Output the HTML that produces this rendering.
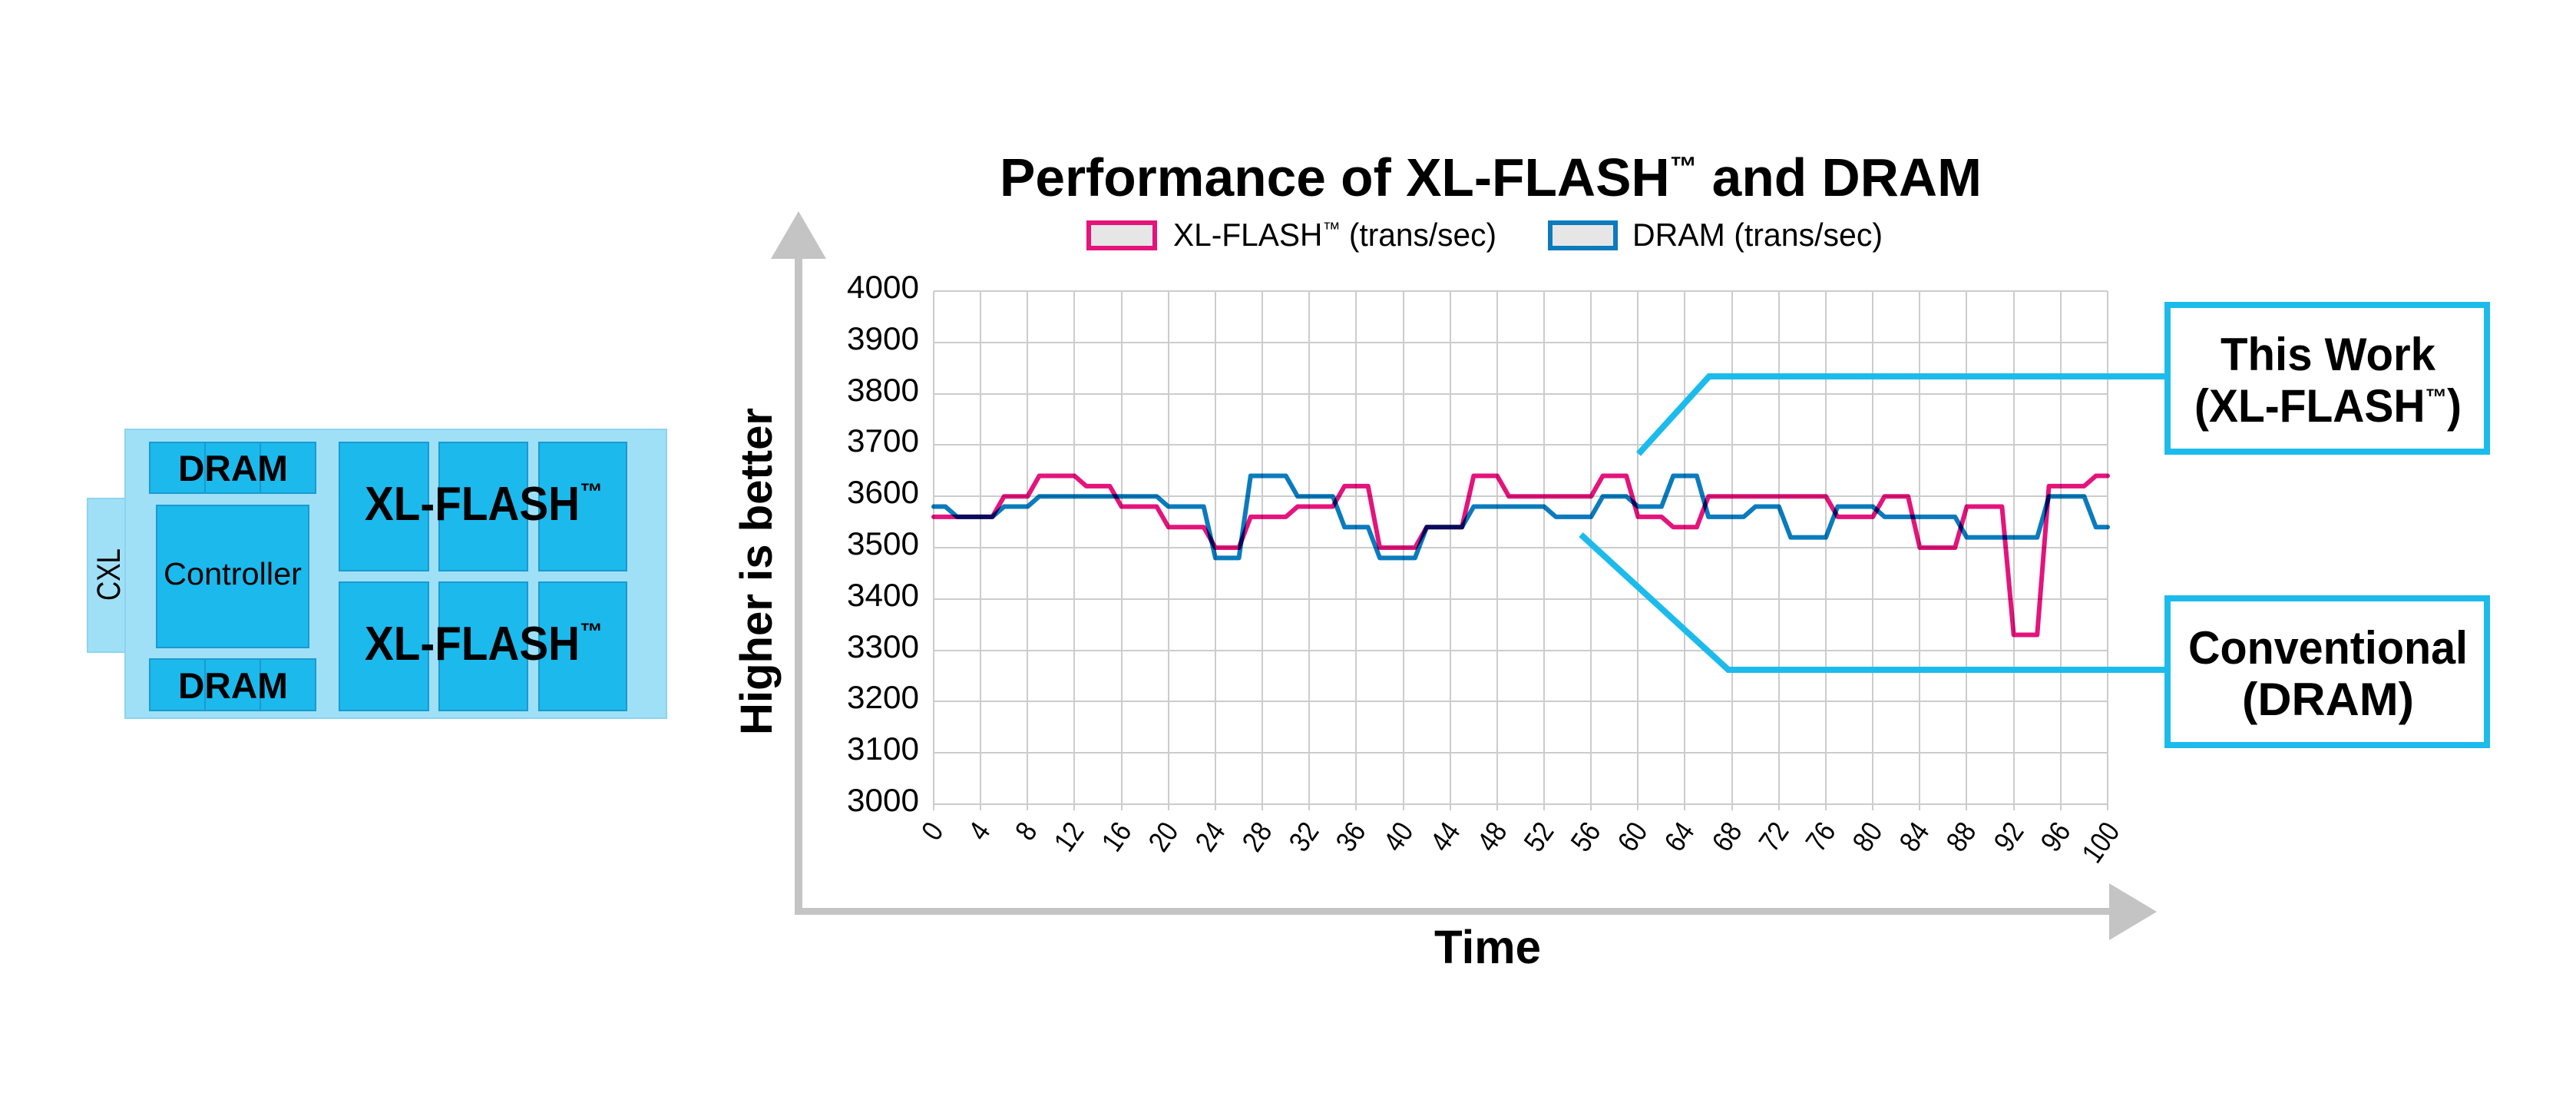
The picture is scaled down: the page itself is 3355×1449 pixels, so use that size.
<!DOCTYPE html>
<html><head><meta charset="utf-8"><style>
html,body{margin:0;padding:0;background:#fff;}
svg{display:block;}
text{font-family:"Liberation Sans",sans-serif;}
</style></head><body>
<svg width="3355" height="1449" viewBox="0 0 3355 1449" xmlns="http://www.w3.org/2000/svg">
<rect width="3355" height="1449" fill="#fff"/>
<!-- Diagram -->
<rect x="114" y="649" width="52" height="200" fill="#9fe0f7" stroke="#8cd3ef" stroke-width="2"/>
<rect x="163" y="559" width="705" height="376" fill="#9fe0f7" stroke="#8cd3ef" stroke-width="2"/>
<text transform="translate(156,782) rotate(-90)" font-size="43" textLength="68" lengthAdjust="spacingAndGlyphs">CXL</text>
<g fill="#1cb9ec" stroke="#1a9ad0" stroke-width="2">
<rect x="195" y="576" width="72" height="66"/><rect x="267" y="576" width="72" height="66"/><rect x="339" y="576" width="72" height="66"/>
<rect x="195" y="858" width="72" height="67"/><rect x="267" y="858" width="72" height="67"/><rect x="339" y="858" width="72" height="67"/>
<rect x="204" y="658" width="198" height="185"/>
<rect x="442" y="576" width="116" height="167"/><rect x="572" y="576" width="115" height="167"/><rect x="702" y="576" width="114" height="167"/>
<rect x="442" y="758" width="116" height="167"/><rect x="572" y="758" width="115" height="167"/><rect x="702" y="758" width="114" height="167"/>
</g>
<text x="232" y="626" font-size="47" font-weight="bold" textLength="143" lengthAdjust="spacingAndGlyphs">DRAM</text>
<text x="232" y="909" font-size="47" font-weight="bold" textLength="143" lengthAdjust="spacingAndGlyphs">DRAM</text>
<text x="213" y="761" font-size="41" textLength="180" lengthAdjust="spacingAndGlyphs">Controller</text>
<text x="475" y="677" font-size="62" font-weight="bold" textLength="280" lengthAdjust="spacingAndGlyphs">XL-FLASH</text>
<text x="755" y="650" font-size="30" font-weight="bold" textLength="30" lengthAdjust="spacingAndGlyphs">™</text>
<text x="475" y="859" font-size="62" font-weight="bold" textLength="280" lengthAdjust="spacingAndGlyphs">XL-FLASH</text>
<text x="755" y="832" font-size="30" font-weight="bold" textLength="30" lengthAdjust="spacingAndGlyphs">™</text>

<!-- Title & legend -->
<text x="1302" y="255" font-size="70" font-weight="bold" textLength="1279" lengthAdjust="spacingAndGlyphs">Performance of XL-FLASH<tspan font-size="36" dy="-26">™</tspan><tspan dy="26"> and DRAM</tspan></text>
<rect x="1418" y="290" width="86" height="33" fill="#e6e6e6" stroke="#e4147c" stroke-width="6"/>
<text x="1528" y="320" font-size="42" textLength="421" lengthAdjust="spacingAndGlyphs">XL-FLASH<tspan font-size="24" dy="-14">™</tspan><tspan dy="14"> (trans/sec)</tspan></text>
<rect x="2019" y="290" width="85" height="33" fill="#e6e6e6" stroke="#0a7bbd" stroke-width="6"/>
<text x="2126" y="320" font-size="42" textLength="326" lengthAdjust="spacingAndGlyphs">DRAM (trans/sec)</text>

<!-- Axes arrows -->
<rect x="1035" y="330" width="10" height="861" fill="#c4c4c4"/>
<polygon points="1040,275 1004,337 1076,337" fill="#c4c4c4"/>
<rect x="1035" y="1182" width="1716" height="9" fill="#c4c4c4"/>
<polygon points="2809,1187 2747,1150 2747,1224" fill="#c4c4c4"/>
<text transform="translate(1005,957) rotate(-90)" font-size="58" font-weight="bold" textLength="426" lengthAdjust="spacingAndGlyphs">Higher is better</text>
<text x="1868" y="1254" font-size="61" font-weight="bold" textLength="139" lengthAdjust="spacingAndGlyphs">Time</text>

<!-- Grid -->
<g stroke="#cccccc" stroke-width="2">
<line x1="1216" y1="379" x2="2745" y2="379"/><line x1="1216" y1="446" x2="2745" y2="446"/>
<line x1="1216" y1="513" x2="2745" y2="513"/><line x1="1216" y1="579" x2="2745" y2="579"/>
<line x1="1216" y1="646" x2="2745" y2="646"/><line x1="1216" y1="713" x2="2745" y2="713"/>
<line x1="1216" y1="780" x2="2745" y2="780"/><line x1="1216" y1="847" x2="2745" y2="847"/>
<line x1="1216" y1="913" x2="2745" y2="913"/><line x1="1216" y1="980" x2="2745" y2="980"/>
<line x1="1216" y1="1047" x2="2745" y2="1047"/>
<line x1="1216" y1="379" x2="1216" y2="1055"/><line x1="1277" y1="379" x2="1277" y2="1055"/>
<line x1="1338" y1="379" x2="1338" y2="1055"/><line x1="1399" y1="379" x2="1399" y2="1055"/>
<line x1="1461" y1="379" x2="1461" y2="1055"/><line x1="1522" y1="379" x2="1522" y2="1055"/>
<line x1="1583" y1="379" x2="1583" y2="1055"/><line x1="1644" y1="379" x2="1644" y2="1055"/>
<line x1="1705" y1="379" x2="1705" y2="1055"/><line x1="1766" y1="379" x2="1766" y2="1055"/>
<line x1="1828" y1="379" x2="1828" y2="1055"/><line x1="1889" y1="379" x2="1889" y2="1055"/>
<line x1="1950" y1="379" x2="1950" y2="1055"/><line x1="2011" y1="379" x2="2011" y2="1055"/>
<line x1="2072" y1="379" x2="2072" y2="1055"/><line x1="2133" y1="379" x2="2133" y2="1055"/>
<line x1="2194" y1="379" x2="2194" y2="1055"/><line x1="2256" y1="379" x2="2256" y2="1055"/>
<line x1="2317" y1="379" x2="2317" y2="1055"/><line x1="2378" y1="379" x2="2378" y2="1055"/>
<line x1="2439" y1="379" x2="2439" y2="1055"/><line x1="2500" y1="379" x2="2500" y2="1055"/>
<line x1="2561" y1="379" x2="2561" y2="1055"/><line x1="2623" y1="379" x2="2623" y2="1055"/>
<line x1="2684" y1="379" x2="2684" y2="1055"/><line x1="2745" y1="379" x2="2745" y2="1055"/>
</g>
<!-- Y labels -->
<g font-size="42" text-anchor="end">
<text x="1197" y="388" textLength="94" lengthAdjust="spacingAndGlyphs">4000</text>
<text x="1197" y="455" textLength="94" lengthAdjust="spacingAndGlyphs">3900</text>
<text x="1197" y="522" textLength="94" lengthAdjust="spacingAndGlyphs">3800</text>
<text x="1197" y="588" textLength="94" lengthAdjust="spacingAndGlyphs">3700</text>
<text x="1197" y="655" textLength="94" lengthAdjust="spacingAndGlyphs">3600</text>
<text x="1197" y="722" textLength="94" lengthAdjust="spacingAndGlyphs">3500</text>
<text x="1197" y="789" textLength="94" lengthAdjust="spacingAndGlyphs">3400</text>
<text x="1197" y="856" textLength="94" lengthAdjust="spacingAndGlyphs">3300</text>
<text x="1197" y="922" textLength="94" lengthAdjust="spacingAndGlyphs">3200</text>
<text x="1197" y="989" textLength="94" lengthAdjust="spacingAndGlyphs">3100</text>
<text x="1197" y="1056" textLength="94" lengthAdjust="spacingAndGlyphs">3000</text>
</g>
<!-- X labels -->
<g font-size="38" text-anchor="end">
<text transform="translate(1230,1082) rotate(-55) scale(0.85,1)">0</text>
<text transform="translate(1291,1082) rotate(-55) scale(0.85,1)">4</text>
<text transform="translate(1352,1082) rotate(-55) scale(0.85,1)">8</text>
<text transform="translate(1413,1082) rotate(-55) scale(0.85,1)">12</text>
<text transform="translate(1475,1082) rotate(-55) scale(0.85,1)">16</text>
<text transform="translate(1536,1082) rotate(-55) scale(0.85,1)">20</text>
<text transform="translate(1597,1082) rotate(-55) scale(0.85,1)">24</text>
<text transform="translate(1658,1082) rotate(-55) scale(0.85,1)">28</text>
<text transform="translate(1719,1082) rotate(-55) scale(0.85,1)">32</text>
<text transform="translate(1780,1082) rotate(-55) scale(0.85,1)">36</text>
<text transform="translate(1842,1082) rotate(-55) scale(0.85,1)">40</text>
<text transform="translate(1903,1082) rotate(-55) scale(0.85,1)">44</text>
<text transform="translate(1964,1082) rotate(-55) scale(0.85,1)">48</text>
<text transform="translate(2025,1082) rotate(-55) scale(0.85,1)">52</text>
<text transform="translate(2086,1082) rotate(-55) scale(0.85,1)">56</text>
<text transform="translate(2147,1082) rotate(-55) scale(0.85,1)">60</text>
<text transform="translate(2208,1082) rotate(-55) scale(0.85,1)">64</text>
<text transform="translate(2270,1082) rotate(-55) scale(0.85,1)">68</text>
<text transform="translate(2331,1082) rotate(-55) scale(0.85,1)">72</text>
<text transform="translate(2392,1082) rotate(-55) scale(0.85,1)">76</text>
<text transform="translate(2453,1082) rotate(-55) scale(0.85,1)">80</text>
<text transform="translate(2514,1082) rotate(-55) scale(0.85,1)">84</text>
<text transform="translate(2575,1082) rotate(-55) scale(0.85,1)">88</text>
<text transform="translate(2637,1082) rotate(-55) scale(0.85,1)">92</text>
<text transform="translate(2698,1082) rotate(-55) scale(0.85,1)">96</text>
<text transform="translate(2762,1082) rotate(-55) scale(0.85,1)">100</text>
</g>

<!-- Series -->
<g transform="matrix(15.29,0,0,-0.668,1216,3051)" fill="none" stroke-width="6" stroke-linejoin="round" stroke-linecap="round">
<polyline vector-effect="non-scaling-stroke" stroke="#0a7bbd" style="mix-blend-mode:multiply" points="0,3580 1,3580 2,3560 5,3560 6,3580 8,3580 9,3600 19,3600 20,3580 23,3580 24,3480 26,3480 27,3640 30,3640 31,3600 34,3600 35,3540 37,3540 38,3480 41,3480 42,3540 45,3540 46,3580 52,3580 53,3560 56,3560 57,3600 59,3600 60,3580 62,3580 63,3640 65,3640 66,3560 69,3560 70,3580 72,3580 73,3520 76,3520 77,3580 80,3580 81,3560 87,3560 88,3520 94,3520 95,3600 98,3600 99,3540 100,3540"/>
<polyline vector-effect="non-scaling-stroke" stroke="#e4147c" style="mix-blend-mode:multiply" points="0,3560 5,3560 6,3600 8,3600 9,3640 12,3640 13,3620 15,3620 16,3580 19,3580 20,3540 23,3540 24,3500 26,3500 27,3560 30,3560 31,3580 34,3580 35,3620 37,3620 38,3500 41,3500 42,3540 45,3540 46,3640 48,3640 49,3600 56,3600 57,3640 59,3640 60,3560 62,3560 63,3540 65,3540 66,3600 76,3600 77,3560 80,3560 81,3600 83,3600 84,3500 87,3500 88,3580 91,3580 92,3330 94,3330 95,3620 98,3620 99,3640 100,3640"/>
</g>

<!-- Callouts -->
<g stroke="#1cbbec" stroke-width="8" fill="none">
<polyline points="2134,591 2226,490 2823,490"/>
<polyline points="2059,696 2251,872 2823,872"/>
<rect x="2823" y="397" width="416" height="191"/>
<rect x="2823" y="779" width="416" height="191"/>
</g>
<g font-size="60" font-weight="bold" text-anchor="middle">
<text x="3032" y="482" textLength="280" lengthAdjust="spacingAndGlyphs">This Work</text>
<text x="3032" y="549" textLength="348" lengthAdjust="spacingAndGlyphs">(XL-FLASH<tspan font-size="30" dy="-22">™</tspan><tspan dy="22">)</tspan></text>
<text x="3032" y="864" textLength="364" lengthAdjust="spacingAndGlyphs">Conventional</text>
<text x="3032" y="931" textLength="224" lengthAdjust="spacingAndGlyphs">(DRAM)</text>
</g>
</svg>
</body></html>
